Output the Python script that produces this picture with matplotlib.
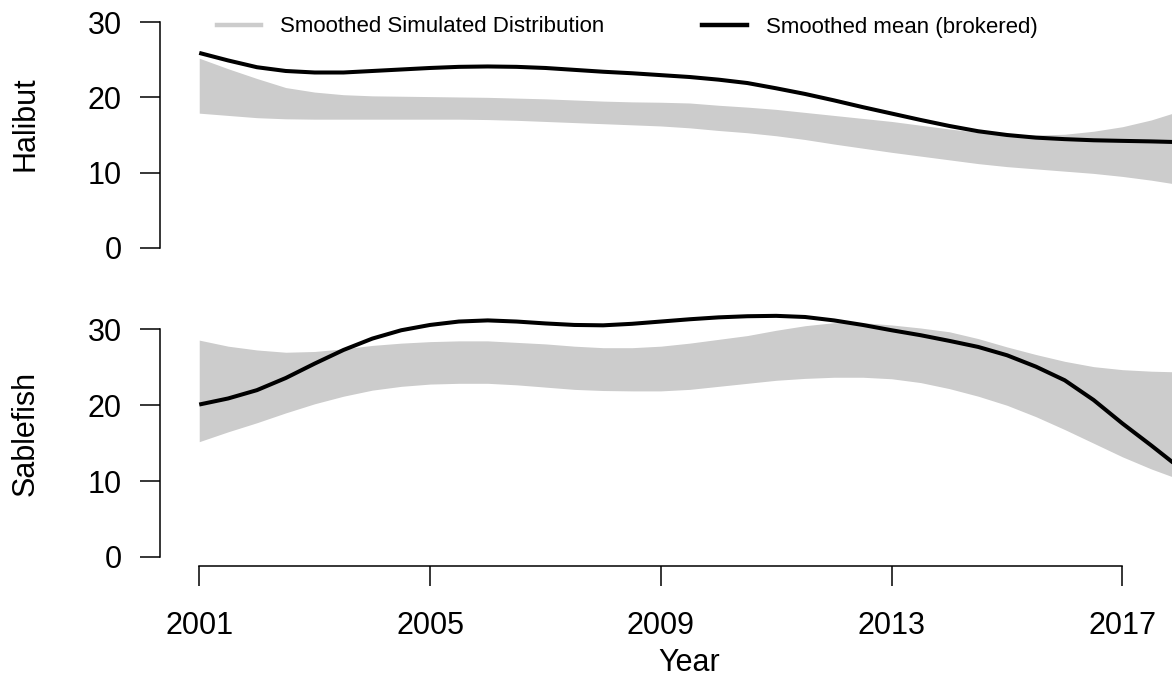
import matplotlib
matplotlib.use('Agg')
import matplotlib.pyplot as plt
import numpy as np

plt.rcParams['font.family'] = ['Liberation Sans', 'DejaVu Sans']

# values, every half year
years = [2001.0 + 0.5 * i for i in range(35)]

halibut_mean = [25.9, 24.9, 24.0, 23.5, 23.3, 23.3, 23.5, 23.7, 23.9, 24.05,
                24.1, 24.05, 23.9, 23.65, 23.4, 23.2, 22.95, 22.7, 22.35, 21.9,
                21.2, 20.45, 19.6, 18.7, 17.85, 17.0, 16.2, 15.5, 15.0, 14.65,
                14.45, 14.3, 14.22, 14.15, 14.05]
halibut_upper = [25.2, 23.8, 22.5, 21.3, 20.7, 20.35, 20.2, 20.15, 20.1, 20.05,
                 20.0, 19.9, 19.8, 19.65, 19.5, 19.4, 19.35, 19.25, 18.95, 18.7,
                 18.4, 18.0, 17.6, 17.2, 16.8, 16.3, 15.8, 15.35, 15.1, 15.0,
                 15.1, 15.5, 16.1, 17.0, 18.2]
halibut_lower = [17.9, 17.6, 17.3, 17.15, 17.1, 17.1, 17.1, 17.1, 17.1, 17.1,
                 17.05, 16.95, 16.8, 16.65, 16.5, 16.35, 16.2, 15.95, 15.6, 15.3,
                 14.9, 14.4, 13.8, 13.25, 12.7, 12.2, 11.7, 11.2, 10.8, 10.5,
                 10.2, 9.9, 9.5, 9.0, 8.4]

sable_mean = [20.1, 20.9, 22.0, 23.6, 25.5, 27.3, 28.8, 29.9, 30.6, 31.05,
              31.2, 31.05, 30.8, 30.6, 30.55, 30.75, 31.05, 31.35, 31.6, 31.75,
              31.8, 31.65, 31.2, 30.6, 29.9, 29.25, 28.5, 27.7, 26.6, 25.1,
              23.3, 20.7, 17.6, 14.7, 11.7]
sable_upper = [28.6, 27.8, 27.3, 27.0, 27.1, 27.45, 27.9, 28.2, 28.4, 28.5,
               28.5, 28.3, 28.1, 27.8, 27.6, 27.6, 27.8, 28.2, 28.7, 29.2,
               29.9, 30.5, 30.9, 30.9, 30.6, 30.2, 29.7, 28.8, 27.7, 26.7,
               25.8, 25.1, 24.7, 24.5, 24.4]
sable_lower = [15.2, 16.5, 17.7, 19.0, 20.2, 21.2, 22.0, 22.5, 22.8, 22.9,
               22.9, 22.7, 22.4, 22.1, 21.95, 21.9, 21.9, 22.1, 22.5, 22.9,
               23.3, 23.55, 23.7, 23.7, 23.5, 23.0, 22.2, 21.2, 20.0, 18.5,
               16.8, 15.0, 13.2, 11.6, 10.2]

y_ticks = [0, 10, 20, 30]
x_ticks = [2001, 2005, 2009, 2013, 2017]

W, H = 1172, 679
fig = plt.figure(figsize=(W / 100, H / 100), dpi=100)

# R-style plot regions (data range padded by 4%)
x0, x1 = 2001 - 0.04 * 17, 2018 + 0.04 * 17
px_per_year = 57.7
ax_left = 160 / W
ax_width = (x1 - x0) * px_per_year / W


def panel(top_px, bot_px):
    return fig.add_axes([ax_left, 1 - bot_px / H, ax_width, (bot_px - top_px) / H])


ax1 = panel(13, 257)
ax2 = panel(320.4, 566)

grey = '#cccccc'
for ax, lo, hi, mu in [(ax1, halibut_lower, halibut_upper, halibut_mean),
                       (ax2, sable_lower, sable_upper, sable_mean)]:
    ax.fill_between(years, lo, hi, color=grey, lw=0, clip_on=False)
    ax.plot(years, mu, color='black', lw=2.9, solid_capstyle='butt', clip_on=False)
    ax.set_xlim(x0, x1)
    ax.set_ylim(-1.2, 31.2)
    for s in ['top', 'right']:
        ax.spines[s].set_visible(False)
    ax.spines['left'].set_bounds(0, 30)
    ax.spines['left'].set_linewidth(1.1)
    ax.set_yticks(y_ticks)
    ax.tick_params(axis='y', length=14.4, width=1.1, pad=13, labelsize=22)

ax1.spines['bottom'].set_visible(False)
ax1.set_xticks([])

ax2.spines['bottom'].set_bounds(2001, 2017)
ax2.spines['bottom'].set_linewidth(1.1)
ax2.set_xticks(x_ticks)
ax2.tick_params(axis='x', length=14.4, width=1.1, pad=18, labelsize=22)

fig.text(26 / W, 1 - 124 / H, 'Halibut', rotation=90, fontsize=22,
         ha='center', va='center')
fig.text(26 / W, 1 - 433 / H, 'Sablefish', rotation=90, fontsize=22,
         ha='center', va='center')
fig.text(689 / W, 1 - 663 / H, 'Year', fontsize=22, ha='center', va='center')

h1, = ax1.plot([], [], color=grey, lw=3.2)
h2, = ax1.plot([], [], color='black', lw=3.2)
ax1.legend([h1, h2], ['Smoothed Simulated Distribution', 'Smoothed mean (brokered)'],
           ncol=2, frameon=False, fontsize=16, loc='center left',
           bbox_to_anchor=(217 / W, 1 - 27 / H), bbox_transform=fig.transFigure,
           borderpad=0, borderaxespad=0, handlelength=2.0, handletextpad=0.85,
           columnspacing=4.4)

fig.savefig('out.png', dpi=100)
